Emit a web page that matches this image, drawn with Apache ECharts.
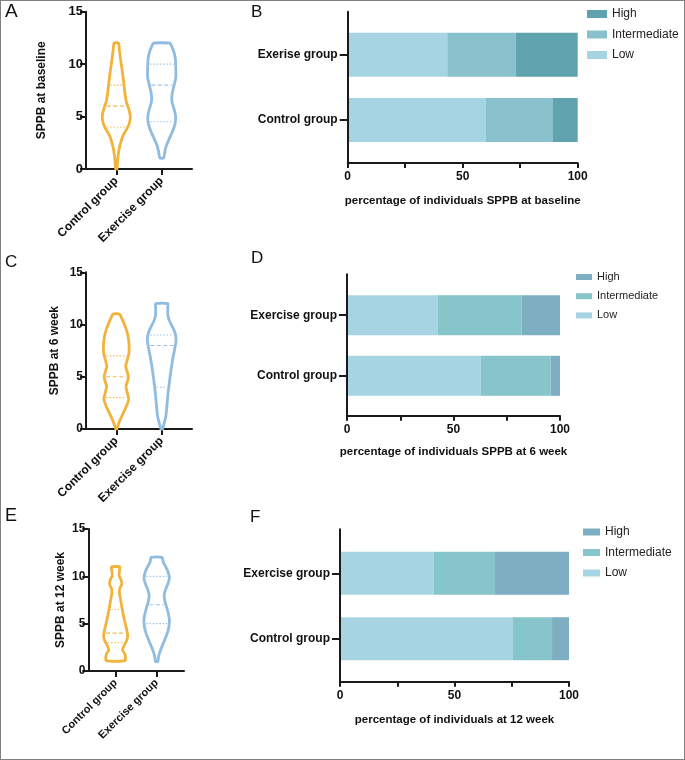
<!DOCTYPE html>
<html><head><meta charset="utf-8">
<script src="https://cdn.jsdelivr.net/npm/echarts@6/dist/echarts.min.js"></script>
<style>
html,body{margin:0;padding:0;background:#fff}
#c{width:685px;height:760px}
#f{position:absolute;left:0;top:0;width:685px;height:760px;box-sizing:border-box;border:1.5px solid #808080;pointer-events:none}
</style>
</head><body><div id="c"></div><div id="f"></div>
<script>
// ---------- data ----------
const violinCats = ['Control group', 'Exercise group'];
const violinPos = [2, 5];
const barCatsB = ['Control group', 'Exerise group'];
const barCats = ['Control group', 'Exercise group'];
const levelNames = ['High', 'Intermediate', 'Low'];

// violin outlines: [SPPB value, half width]
const violinA_control = [[0,0.04],[1,0.1],[2,0.2],[2.7,0.33],[3.2,0.45],[3.7,0.65],[4.3,0.85],[5,0.93],[5.6,0.85],[6.5,0.65],[7.5,0.55],[8.5,0.47],[9.5,0.38],[10.5,0.28],[11.4,0.2],[12,0.15]];
const violinA_exercise = [[1.05,0.12],[1.6,0.2],[2.2,0.3],[2.9,0.5],[3.6,0.72],[4.3,0.88],[5,0.92],[5.7,0.82],[6.4,0.68],[7.1,0.68],[7.9,0.8],[8.7,0.93],[9.6,0.93],[10.5,0.9],[11.2,0.8],[11.7,0.66],[12,0.55]];
const violinC_control = [[0,0.03],[0.7,0.2],[1.5,0.45],[2.3,0.7],[2.9,0.82],[3.5,0.72],[4.1,0.64],[4.6,0.75],[5.0,0.8],[5.5,0.72],[6.0,0.62],[6.6,0.72],[7.3,0.84],[8.2,0.84],[9.0,0.76],[9.7,0.62],[10.3,0.45],[10.8,0.3],[11.0,0.22]];
const violinC_exercise = [[0,0.05],[0.5,0.15],[1.2,0.27],[2.0,0.33],[2.8,0.38],[3.6,0.43],[4.4,0.5],[5.2,0.57],[6.0,0.65],[6.8,0.74],[7.6,0.85],[8.5,0.95],[9.2,0.88],[9.8,0.7],[10.4,0.5],[11.0,0.4],[11.6,0.4],[12,0.4]];
const violinE_control = [[1.1,0.68],[1.8,0.68],[2.2,0.5],[2.7,0.62],[3.2,0.8],[3.7,0.88],[4.3,0.82],[5.0,0.7],[5.8,0.58],[6.6,0.47],[7.4,0.38],[8.2,0.28],[8.7,0.3],[9.2,0.45],[9.6,0.4],[10.1,0.25],[10.6,0.28],[11,0.3]];
const violinE_exercise = [[1,0.08],[1.6,0.15],[2.2,0.28],[2.8,0.45],[3.4,0.62],[4.0,0.78],[4.7,0.9],[5.4,0.93],[6.1,0.85],[6.8,0.72],[7.4,0.6],[8.0,0.55],[8.6,0.65],[9.2,0.82],[9.8,0.93],[10.4,0.85],[11.0,0.67],[11.5,0.48],[12,0.4]];
// quartiles [Q1, median, Q3]
const quartA_control = [4, 6, 8];
const quartA_exercise = [4.5, 8, 10];
const quartC_control = [3, 5, 7];
const quartC_exercise = [4, 8, 9];
const quartE_control = [3, 4, 6.5];
const quartE_exercise = [5, 7, 10];

// percentage bars: [Control, Exercise]
const lowB = [60.1, 43.3], intB = [28.9, 29.8], highB = [11.0, 26.9];
const lowD = [62.8, 42.6], intD = [32.8, 39.4], highD = [4.4, 18.0];
const lowF = [75.5, 41.0], intF = [17.1, 26.7], highF = [7.4, 32.3];

// ---------- styles ----------
const FONT = "'Liberation Sans', Arial, sans-serif";
const INK = '#1a1a1a';
const vColors = ['#F2B33B', '#8FBCE0'];
const qColors = ['#F0BA55', '#9CC3E3'];
const colB = {Low: '#A6D4E3', Intermediate: '#88C1CB', High: '#5EA3AD'};
const colD = {Low: '#A6D4E3', Intermediate: '#86C5C9', High: '#7DAEC2'};

function interp(prof, q) {
  if (q <= prof[0][0]) return prof[0][1];
  for (let k = 1; k < prof.length; k++) {
    if (q <= prof[k][0]) {
      const t = (q - prof[k-1][0]) / (prof[k][0] - prof[k-1][0]);
      return prof[k-1][1] + t * (prof[k][1] - prof[k-1][1]);
    }
  }
  return prof[prof.length-1][1];
}

function makeViolin(profiles, quarts) {
  return function (params, api) {
    const i = params.dataIndex;
    const xc = api.value(0);
    const prof = profiles[i];
    const pts = [];
    prof.forEach(p => pts.push(api.coord([xc + p[1], p[0]])));
    for (let k = prof.length - 1; k >= 0; k--) pts.push(api.coord([xc - prof[k][1], prof[k][0]]));
    const children = [];
    quarts[i].forEach((q, j) => {
      const hw = interp(prof, q);
      const a = api.coord([xc - hw, q]), b = api.coord([xc + hw, q]);
      children.push({type: 'line', shape: {x1: a[0] + 2, y1: a[1], x2: b[0] - 2, y2: b[1]},
        style: {stroke: qColors[i], lineWidth: 1.1, lineDash: j === 1 ? [4, 2.5] : [1.5, 1.8]}});
    });
    children.push({type: 'polygon', shape: {points: pts, smooth: 0.2},
      style: {fill: 'transparent', stroke: vColors[i], lineWidth: 2.8, lineJoin: 'round'}});
    return {type: 'group', children};
  };
}

const lineStyle = {color: INK, width: 2};

function violinX(g, fs) {
  return {gridIndex: g, type: 'value', min: 0, max: 7,
    axisLine: {show: true, onZero: false, lineStyle},
    axisTick: {show: true, customValues: violinPos, length: 6, lineStyle},
    axisLabel: {customValues: violinPos, rotate: 45, margin: 10,
      formatter: v => violinCats[violinPos.indexOf(v)],
      fontSize: fs, fontWeight: 'bold', color: '#111', fontFamily: FONT},
    splitLine: {show: false}};
}
function violinY(g, name, gap, fs) {
  return {gridIndex: g, type: 'value', min: 0, max: 15, interval: 5,
    axisLine: {show: true, lineStyle},
    axisTick: {show: true, length: 6, lineStyle},
    axisLabel: {fontSize: fs, fontWeight: 'bold', color: '#111', margin: 3, fontFamily: FONT},
    name, nameLocation: 'middle', nameGap: gap,
    nameTextStyle: {fontSize: 12, fontWeight: 'bold', color: '#111', fontFamily: FONT},
    splitLine: {show: false}};
}
function barAxisX(g, name, gap) {
  return {gridIndex: g, type: 'value', min: 0, max: 100, interval: 25,
    axisLine: {show: true, lineStyle},
    axisTick: {show: true, length: 5, lineStyle},
    axisLabel: {formatter: v => (v % 50 === 0 ? String(v) : ''), fontSize: 12, fontWeight: 'bold',
      color: '#111', margin: 8, fontFamily: FONT},
    name, nameLocation: 'middle', nameGap: gap,
    nameTextStyle: {fontSize: 11.5, fontWeight: 'bold', color: '#111', fontFamily: FONT},
    splitLine: {show: false}};
}
function barAxisY(g) {
  return {gridIndex: g, type: 'value', min: 0, max: 1, z: 5,
    axisLine: {show: true, lineStyle}, axisTick: {show: false}, axisLabel: {show: false}, splitLine: {show: false}};
}
function hiddenX(g) { return {gridIndex: g, type: 'value', min: 0, max: 100, show: false}; }
function catY(g, cats) {
  return {gridIndex: g, type: 'category', data: cats,
    axisLine: {show: false},
    axisTick: {show: true, alignWithLabel: true, length: 8, lineStyle},
    axisLabel: {fontSize: 12, fontWeight: 'bold', color: '#111', margin: 10, fontFamily: FONT},
    splitLine: {show: false}};
}
function bars(ax, stack, low, mid, high, cols, w) {
  return [
    {type: 'bar', name: 'Low', xAxisIndex: ax, yAxisIndex: ax, stack, data: low, barWidth: w, itemStyle: {color: cols.Low}},
    {type: 'bar', name: 'Intermediate', xAxisIndex: ax, yAxisIndex: ax, stack, data: mid, barWidth: w, itemStyle: {color: cols.Intermediate}},
    {type: 'bar', name: 'High', xAxisIndex: ax, yAxisIndex: ax, stack, data: high, barWidth: w, itemStyle: {color: cols.High}}
  ];
}
function legend(left, top, w, h, gap, fs, cols) {
  return {left, top, orient: 'vertical', icon: 'rect', itemWidth: w, itemHeight: h, itemGap: gap, padding: 0,
    textStyle: {fontSize: fs, color: '#222', fontFamily: FONT, lineHeight: 14},
    data: levelNames.map(n => ({name: n, itemStyle: {color: cols[n]}}))};
}
function letter(t, left, top, fs) {
  return {text: t, left, top, padding: 0, textStyle: {fontSize: fs, fontWeight: 'normal', color: '#111', fontFamily: FONT}};
}

const option = {
  animation: false,
  backgroundColor: '#fff',
  title: [letter('A', 5, 2, 19), letter('B', 251, 4, 17), letter('C', 5, 254, 17),
          letter('D', 251, 250, 17), letter('E', 5, 507, 18), letter('F', 250, 509, 17)],
  legend: [legend(587, 7, 20, 8, 6.5, 12, colB), legend(576, 270, 16, 6, 5.2, 11, colD), legend(583, 525, 17, 7, 6.5, 12, colD)],
  grid: [
    {left: 86, top: 11.7, width: 106, height: 157.3},
    {left: 86, top: 272.3, width: 106, height: 156.7},
    {left: 88.3, top: 529, width: 95.7, height: 142},
    {left: 347.7, top: 11.7, width: 230, height: 151.3},
    {left: 347.7, top: 22, width: 230, height: 130.6},
    {left: 347, top: 274.3, width: 213, height: 141.4},
    {left: 347, top: 284.9, width: 213, height: 121.2},
    {left: 340, top: 529.3, width: 229, height: 152.4},
    {left: 340, top: 540.6, width: 229, height: 130.8}
  ],
  xAxis: [violinX(0, 12), violinX(1, 12), violinX(2, 11),
          barAxisX(3, 'percentage of individuals SPPB at baseline', 32), hiddenX(4),
          barAxisX(5, 'percentage of individuals SPPB at 6 week', 30), hiddenX(6),
          barAxisX(7, 'percentage of individuals at 12 week', 32), hiddenX(8)],
  yAxis: [violinY(0, 'SPPB at baseline', 38, 13), violinY(1, 'SPPB at 6 week', 25, 12), violinY(2, 'SPPB at 12 week', 22, 12),
          barAxisY(3), catY(4, barCatsB), barAxisY(5), catY(6, barCats), barAxisY(7), catY(8, barCats)],
  series: [
    {type: 'custom', xAxisIndex: 0, yAxisIndex: 0, data: violinPos.map((p, i) => [p, i]),
      renderItem: makeViolin([violinA_control, violinA_exercise], [quartA_control, quartA_exercise])},
    {type: 'custom', xAxisIndex: 1, yAxisIndex: 1, data: violinPos.map((p, i) => [p, i]),
      renderItem: makeViolin([violinC_control, violinC_exercise], [quartC_control, quartC_exercise])},
    {type: 'custom', xAxisIndex: 2, yAxisIndex: 2, data: violinPos.map((p, i) => [p, i]),
      renderItem: makeViolin([violinE_control, violinE_exercise], [quartE_control, quartE_exercise])},
    ...bars(4, 'B', lowB, intB, highB, colB, 44),
    ...bars(6, 'D', lowD, intD, highD, colD, 40),
    ...bars(8, 'F', lowF, intF, highF, colD, 43)
  ]
};
const chart = echarts.init(document.getElementById('c'));
chart.setOption(option);
</script>
</body></html>
